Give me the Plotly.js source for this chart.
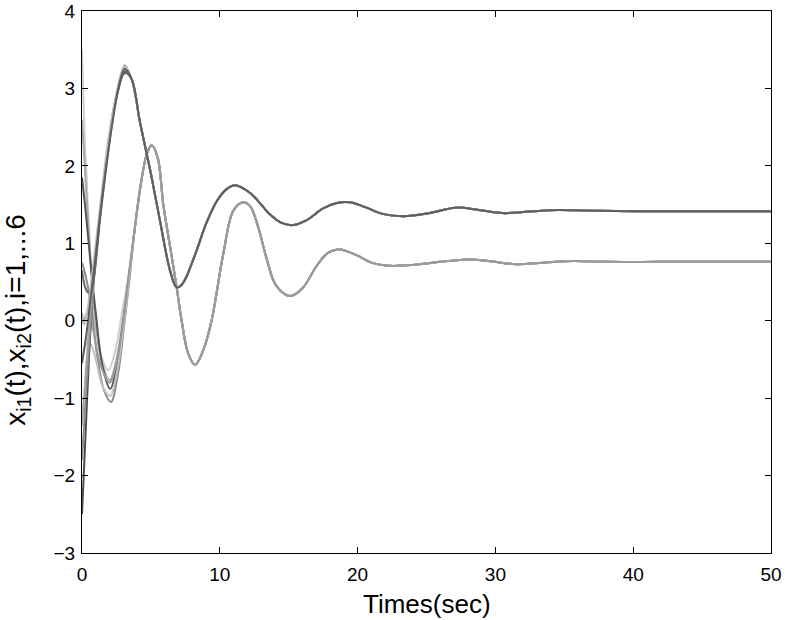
<!DOCTYPE html>
<html>
<head>
<meta charset="utf-8">
<script src="https://cdn.plot.ly/plotly-3.0.1.min.js"></script>
<style>html,body{margin:0;padding:0;background:#fff;}#chart{width:786px;height:620px;}</style>
</head>
<body>
<div id="chart"></div>
<script>
// ---- data ----
// group of x_i1 curves (converge to ~1.415), shared part after synchronisation
const tailA_t = [3.6, 4.2, 4.7, 5.0, 5.66, 6.4, 6.87, 7.3, 8.2, 9.0, 9.8, 10.5, 11.1, 12.2, 13.0, 13.6, 14.4, 15.3, 16.3, 17.5, 18.5, 19.45, 20.5, 21.8, 23.3, 25.25, 27.1, 28.8, 30.5, 32.5, 34.5, 37, 40, 45, 50];
const tailA_v = [3.12, 2.57, 2.15, 1.9, 1.29, 0.64, 0.43, 0.48, 0.85, 1.25, 1.55, 1.7, 1.75, 1.65, 1.5, 1.38, 1.27, 1.235, 1.3, 1.45, 1.52, 1.53, 1.47, 1.38, 1.35, 1.39, 1.46, 1.43, 1.39, 1.41, 1.43, 1.42, 1.415, 1.415, 1.415];
// group of x_i2 curves (converge to ~0.76), shared part after synchronisation
const tailB_t = [3.8, 4.3, 4.7, 5.06, 5.5, 5.9, 6.4, 6.87, 7.23, 7.7, 8.2, 8.8, 9.4, 10.25, 10.98, 11.7, 12.2, 12.8, 13.4, 14.1, 15.1, 16.0, 17.0, 17.8, 18.7, 20.0, 21.0, 22.3, 24.0, 26.0, 28.0, 29.5, 31.5, 33.5, 35.6, 38, 42, 46, 50];
const tailB_v = [1.15, 1.8, 2.15, 2.265, 2.1, 1.5, 0.95, 0.43, 0.0, -0.42, -0.57, -0.38, 0.0, 0.86, 1.42, 1.53, 1.48, 1.2, 0.8, 0.45, 0.32, 0.42, 0.7, 0.87, 0.92, 0.84, 0.75, 0.71, 0.72, 0.76, 0.79, 0.77, 0.73, 0.75, 0.77, 0.76, 0.76, 0.76, 0.76];

// individual early transients (t, value)
const headA1_t = [0, 0.25, 0.5, 0.8, 1.2, 1.6, 2.0, 2.5, 3.1];
const headA1_v = [-2.5, -1.5, -0.5, 0.4, 1.2, 1.85, 2.4, 2.9, 3.2];
const headA2_t = [0, 0.3, 0.6, 0.9, 1.3, 1.7, 2.1, 2.6, 3.1];
const headA2_v = [-1.8, -0.9, -0.1, 0.6, 1.35, 1.95, 2.5, 3.0, 3.27];
const headA3_t = [0, 0.3, 0.6, 1.0, 1.4, 1.8, 2.2, 2.6, 3.1];
const headA3_v = [-1.35, -0.6, 0.1, 0.8, 1.5, 2.1, 2.6, 3.0, 3.3];
const headA4_t = [0, 0.3, 0.6, 0.9, 1.3, 1.7, 2.1, 2.6, 3.1];
const headA4_v = [0.65, 0.4, 0.35, 0.6, 1.3, 1.9, 2.45, 2.95, 3.22];
const headA5_t = [0, 0.15, 0.3, 0.6, 1.0, 1.4, 1.8, 2.3, 3.1];
const headA5_v = [0.05, -0.05, 0.05, 0.4, 1.0, 1.6, 2.2, 2.75, 3.28];
const headA6_t = [0, 0.3, 0.6, 1.0, 1.4, 1.8, 2.2, 2.7, 3.1];
const headA6_v = [-0.55, -0.2, 0.25, 0.85, 1.5, 2.05, 2.55, 3.05, 3.25];

const headB1_t = [0, 0.1, 0.2, 0.4, 0.7, 1.0, 1.4, 1.9, 2.4, 2.9, 3.4];
const headB1_v = [3.5, 2.9, 2.35, 1.6, 0.6, 0.0, -0.45, -0.64, -0.4, 0.1, 0.6];
const headB2_t = [0, 0.2, 0.4, 0.7, 1.0, 1.4, 2.0, 2.5, 3.0, 3.4];
const headB2_v = [2.6, 2.0, 1.4, 0.55, -0.05, -0.5, -0.77, -0.5, 0.05, 0.6];
const headB3_t = [0, 0.3, 0.7, 1.0, 1.5, 2.05, 2.5, 3.0, 3.4];
const headB3_v = [1.85, 1.35, 0.6, 0.1, -0.6, -0.88, -0.6, 0.0, 0.55];
const headB4_t = [0, 0.3, 0.7, 1.1, 1.6, 2.1, 2.6, 3.1, 3.5];
const headB4_v = [0.75, 0.55, 0.15, -0.45, -0.9, -1.05, -0.7, 0.0, 0.62];
const headB5_t = [0, 0.3, 0.6, 1.0, 1.5, 2.05, 2.5, 3.0, 3.45];
const headB5_v = [-0.5, -0.3, -0.3, -0.5, -0.85, -0.97, -0.7, -0.1, 0.6];
const headB6_t = [0, 0.1, 0.25, 0.5, 0.8, 1.3, 2.0, 2.5, 3.0, 3.4];
const headB6_v = [0.1, 0.0, 0.05, 0.15, -0.1, -0.55, -0.8, -0.55, 0.0, 0.6];

const xTicks = [0, 10, 20, 30, 40, 50];
const yTicks = [-3, -2, -1, 0, 1, 2, 3, 4];
const xTitle = 'Times(sec)';
const yTitle = 'x<sub>i1</sub>(t),x<sub>i2</sub>(t),i=1,...6';

// ---- build traces ----
const groupB = [
  [headB1_t, headB1_v, '#cfcfcf'],
  [headB2_t, headB2_v, '#a8a8a8'],
  [headB3_t, headB3_v, '#555555'],
  [headB4_t, headB4_v, '#8a8a8a'],
  [headB5_t, headB5_v, '#c2c2c2'],
  [headB6_t, headB6_v, '#9a9a9a']
];
const groupA = [
  [headA1_t, headA1_v, '#4d4d4d'],
  [headA2_t, headA2_v, '#8c8c8c'],
  [headA3_t, headA3_v, '#a6a6a6'],
  [headA4_t, headA4_v, '#6a6a6a'],
  [headA5_t, headA5_v, '#bdbdbd'],
  [headA6_t, headA6_v, '#5e5e5e']
];
const traces = [];
groupB.forEach(g => traces.push({
  x: g[0].concat(tailB_t), y: g[1].concat(tailB_v), type: 'scatter', mode: 'lines',
  line: {color: g[2], width: 2, shape: 'spline', smoothing: 1}, hoverinfo: 'skip'
}));
groupA.forEach(g => traces.push({
  x: g[0].concat(tailA_t), y: g[1].concat(tailA_v), type: 'scatter', mode: 'lines',
  line: {color: g[2], width: 2, shape: 'spline', smoothing: 1}, hoverinfo: 'skip'
}));

const font = {family: '"Liberation Sans", Arial, Helvetica, sans-serif', color: '#000'};
const axisCommon = {
  showgrid: false, zeroline: false, showline: true, linecolor: '#000', linewidth: 1,
  mirror: 'ticks', ticks: 'inside', ticklen: 6, tickcolor: '#000', tickwidth: 1,
  ticklabeloverflow: 'allow',
  tickfont: Object.assign({size: 19}, font)
};
const layout = {
  width: 786, height: 620,
  margin: {l: 82, r: 15, t: 11, b: 67},
  paper_bgcolor: '#fff', plot_bgcolor: '#fff',
  showlegend: false,
  xaxis: Object.assign({range: [-0.0001, 50.0001], tickvals: xTicks, ticktext: xTicks.map(String), ticklabelstandoff: 4}, axisCommon),
  yaxis: Object.assign({range: [-3.0001, 4.0001], tickvals: yTicks, ticktext: yTicks.map(v => v < 0 ? '\u2212' + Math.abs(v) : String(v)), ticklabelstandoff: 2}, axisCommon),
  annotations: [
    {text: xTitle, xref: 'paper', yref: 'paper', x: 0.5, y: -0.095, xanchor: 'center', yanchor: 'middle',
     showarrow: false, font: Object.assign({size: 26}, font)},
    {text: yTitle, xref: 'paper', yref: 'paper', x: -0.093, y: 0.43, xanchor: 'center', yanchor: 'middle',
     textangle: -90, showarrow: false, font: Object.assign({size: 28}, font)}
  ]
};
Plotly.newPlot('chart', traces, layout, {staticPlot: true, displayModeBar: false});
</script>
</body>
</html>
